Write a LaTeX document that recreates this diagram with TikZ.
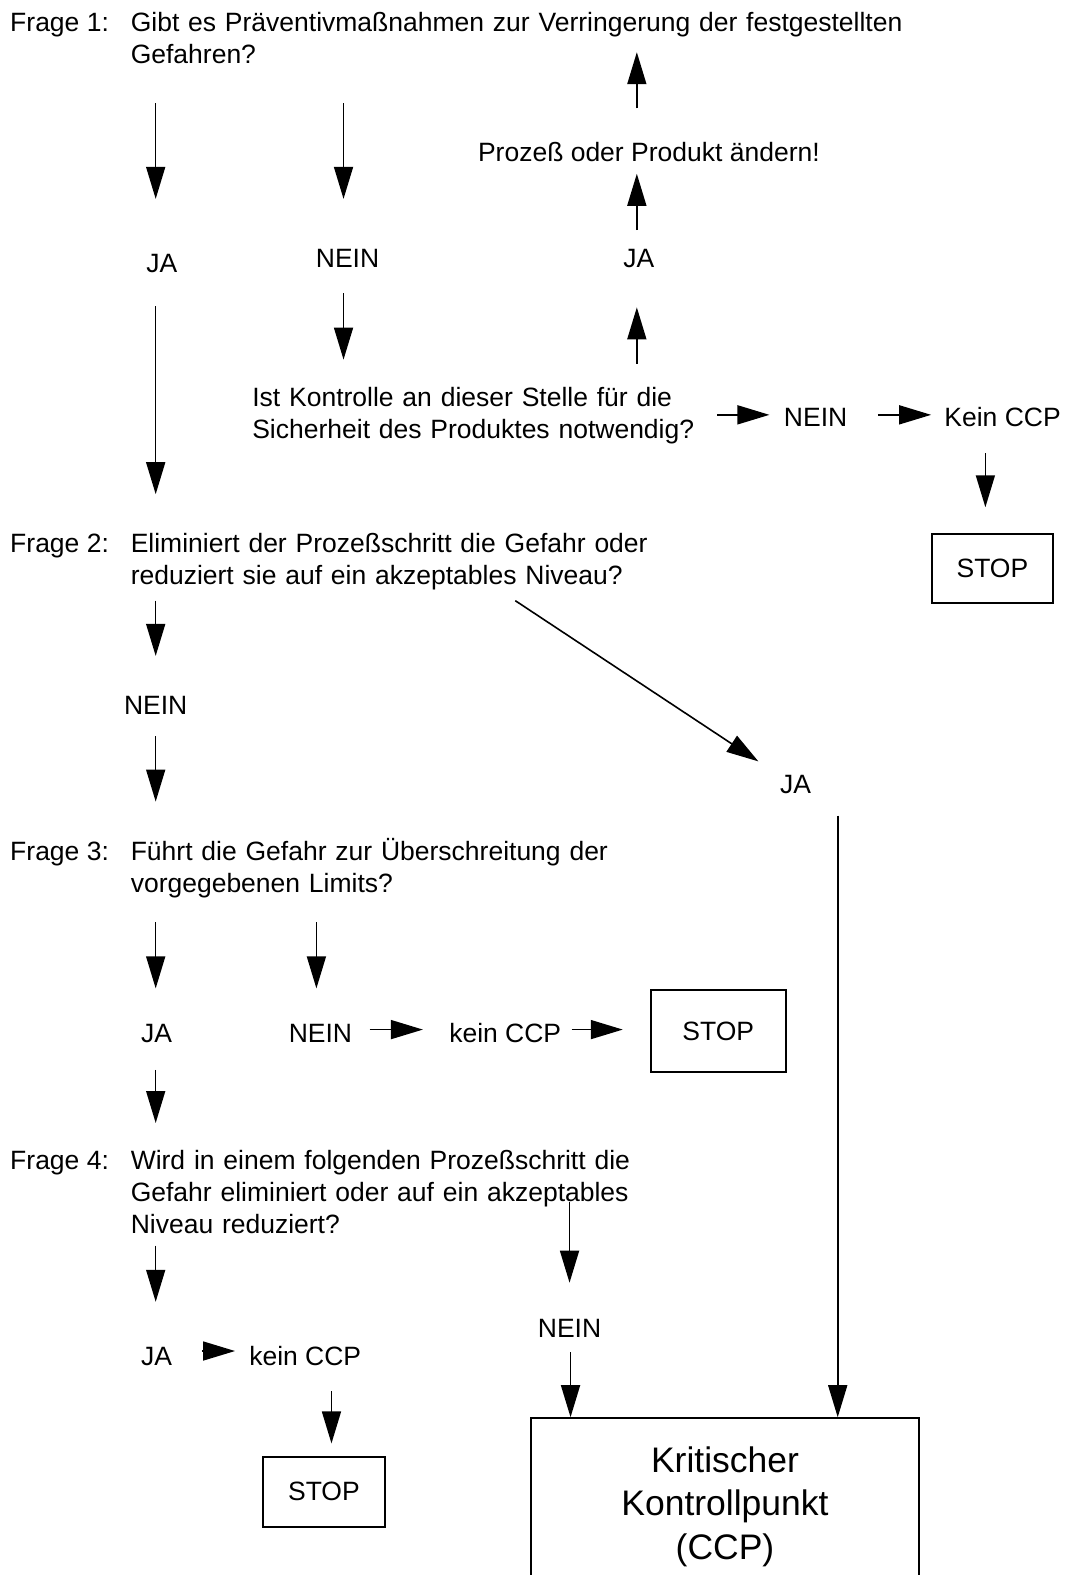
\documentclass[tikz,border=0pt]{standalone}
\usepackage{fontspec}
\setmainfont{Liberation Sans}
\usetikzlibrary{arrows.meta}
\begin{document}
\begin{tikzpicture}[x=1.0047pt,y=-1.0047pt,
  txt/.style={inner sep=0pt, anchor=base, font=\fontsize{26.5}{32}\selectfont},
  ltxt/.style={txt, anchor=base west},
  ptxt/.style={ltxt, text width=900pt, align=left},
  arr/.style={line width=1.6pt, -{Triangle[length=32pt,width=19pt]}},
  stopbox/.style={draw, line width=2pt, inner sep=0pt, font=\fontsize{26.5}{32}\selectfont}
]
\useasboundingbox (0,0) rectangle (1062,1568);

% ---------- Frage 1 ----------
\node[ltxt] (q1lab) at (10,31) {Frage 1:};
\node[ptxt] (q1) at (130,31) {Gibt es Präventivmaßnahmen zur Verringerung der festgestellten\\Gefahren?};
\node[txt] (ja1) at (161,271) {JA};
\node[txt] (nein1) at (346,266) {NEIN};
\node[txt] (change) at (646,161) {Prozeß oder Produkt ändern!};
\node[txt] (ja1b) at (636,266) {JA};
\node[ptxt] (kontr) at (251,405) {Ist Kontrolle an dieser Stelle für die\\Sicherheit des Produktes notwendig?};
\node[txt] (nein1b) at (812,425) {NEIN};
\node[ltxt] (kein1) at (940,425) {Kein CCP};
\node[stopbox, minimum width=121pt, minimum height=69pt] (stop1) at (988,565.5) {STOP};

\draw[arr] (155,103) coordinate (a1s) -- (155,198) coordinate (a1e);
\draw[arr] (342,103) coordinate (a2s) -- (342,198) coordinate (a2e);
\draw[arr] (634,108) coordinate (a3s) -- (634,52) coordinate (a3e);
\draw[arr] (634,229) coordinate (a4s) -- (634,173) coordinate (a4e);
\draw[arr] (634,362) coordinate (a5s) -- (634,306) coordinate (a5e);
\draw[arr] (342,292) coordinate (a6s) -- (342,358) coordinate (a6e);
\draw[arr] (714,413) coordinate (a7s) -- (766,413) coordinate (a7e);
\draw[arr] (874,413) coordinate (a8s) -- (927,413) coordinate (a8e);
\draw[arr] (981,451) coordinate (a9s) -- (981,505) coordinate (a9e);
\draw[arr] (155,305) coordinate (a10s) -- (155,492) coordinate (a10e);

% ---------- Frage 2 ----------
\node[ltxt] (q2lab) at (10,550) {Frage 2:};
\node[ptxt] (q2) at (130,550) {Eliminiert der Prozeßschritt die Gefahr oder\\reduziert sie auf ein akzeptables Niveau?};
\node[txt] (nein2) at (155,711) {NEIN};
\node[txt] (ja2) at (792,790) {JA};

\draw[arr] (155,598) coordinate (a11s) -- (155,653) coordinate (a11e);
\draw[arr] (155,733) coordinate (a12s) -- (155,798) coordinate (a12e);
\draw[arr] (513,598) coordinate (a13s) -- (755,758) coordinate (a13e);

% ---------- Frage 3 ----------
\node[ltxt] (q3lab) at (10,857) {Frage 3:};
\node[ptxt] (q3) at (130,857) {Führt die Gefahr zur Überschreitung der\\vorgegebenen Limits?};
\node[txt] (ja3) at (156,1038) {JA};
\node[txt] (nein3) at (319,1038) {NEIN};
\node[txt] (kein3) at (503,1038) {kein CCP};
\node[stopbox, minimum width=135pt, minimum height=81.5pt] (stop2) at (715,1026.5) {STOP};

\draw[arr] (155,918) coordinate (a15s) -- (155,984) coordinate (a15e);
\draw[arr] (315,918) coordinate (a16s) -- (315,984) coordinate (a16e);
\draw[arr] (368,1025) coordinate (a17s) -- (421,1025) coordinate (a17e);
\draw[arr] (569,1025) coordinate (a18s) -- (620,1025) coordinate (a18e);
\draw[arr] (155,1065) coordinate (a19s) -- (155,1118) coordinate (a19e);

% ---------- Frage 4 ----------
\node[ltxt] (q4lab) at (10,1164) {Frage 4:};
\node[ptxt] (q4) at (130,1164) {Wird in einem folgenden Prozeßschritt die\\Gefahr eliminiert oder auf ein akzeptables\\Niveau reduziert?};
\node[txt] (nein4) at (567,1332) {NEIN};
\node[txt] (ja4) at (156,1359) {JA};
\node[ltxt] (kein4) at (248,1359) {kein CCP};
\node[stopbox, minimum width=121.5pt, minimum height=70.3pt] (stop3) at (322.5,1485) {STOP};

\node[draw, line width=2pt, inner sep=0pt, align=center,
      minimum width=388pt, minimum height=177pt,
      font=\fontsize{35.5}{43.5}\selectfont] (ccp) at (721.75,1500) {Kritischer\\Kontrollpunkt\\(CCP)};

\draw[arr] (567,1197) coordinate (a20s) -- (567,1277) coordinate (a20e);
\draw[arr] (568,1346) coordinate (a21s) -- (a21s |- ccp.north);
\draw[arr] (155,1240) coordinate (a22s) -- (155,1296) coordinate (a22e);
\draw[arr] (201,1345) coordinate (a23s) -- (234,1345) coordinate (a23e);
\draw[arr] (330,1385) coordinate (a24s) -- (330,1437) coordinate (a24e);
\draw[arr] (834,812) coordinate (a14s) -- (a14s |- ccp.north);
\end{tikzpicture}
\end{document}
